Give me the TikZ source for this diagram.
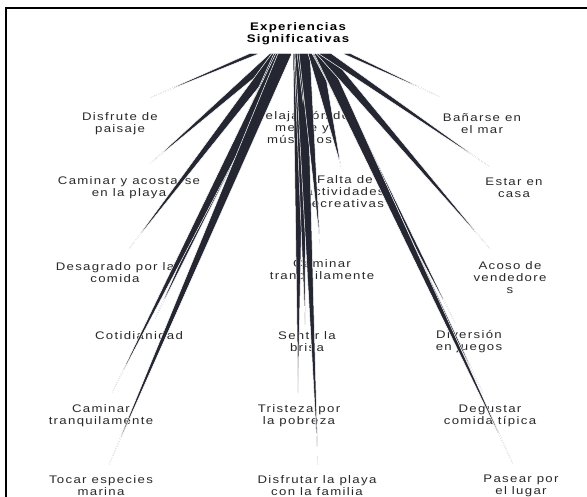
\documentclass[tikz,border=0pt]{standalone}
\usepackage{fontspec}
\setmainfont{Liberation Sans}
\newfontfamily\lblfont[LetterSpace=12,FakeStretch=1.2]{Liberation Sans}
\usetikzlibrary{calc}
\definecolor{wedgecol}{RGB}{36,38,50}
\definecolor{txtcol}{RGB}{40,40,40}

\begin{document}
\begin{tikzpicture}[x=1pt,y=-1pt,
  font=\lblfont\fontsize{11}{12}\selectfont,
  lbl/.style={align=center,inner sep=1pt,text=txtcol},
  title/.style={align=center,inner sep=1pt,font=\lblfont\bfseries\fontsize{11}{12}\selectfont},
  wedge/.style={fill=wedgecol,draw=white,line width=.5pt,line join=miter}
]
\useasboundingbox (0,0) rectangle (587,497);
\draw[line width=1.6pt] (6,497) -- (6,8) -- (587,8);

% root
\node[title] (root) at (298,34) {Experiencias\\Significativas};
\coordinate (hub) at ($(root.south)+(2,7)$);

% left column
\node[lbl] (dis) at (120,124) {Disfrute de\\paisaje};
\node[lbl] (cay) at (129,188) {Caminar y acostarse\\en la playa};
\node[lbl] (des) at (115,273) {Desagrado por la\\comida};
\node[lbl] (cot) at (139,336) {Cotidianidad};
\node[lbl] (ca5) at (101,416) {Caminar\\tranquilamente};
\node[lbl] (toc) at (101,486) {Tocar especies\\marina};

% middle column
\node[lbl] (rel) at (302,128) {Relajación de\\mente y\\músculos.};
\node[lbl] (fal) at (345,192) {Falta de\\actividades\\recreativas};
\node[lbl] (ca3) at (322,271) {Caminar\\tranquilamente};
\node[lbl] (sen) at (307,342) {Sentir la\\brisa};
\node[lbl] (tri) at (299,416) {Tristeza por\\la pobreza};
\node[lbl] (dfp) at (317,486) {Disfrutar la playa\\con la familia};

% right column
\node[lbl] (ban) at (482,124) {Bañarse en\\el mar};
\node[lbl] (est) at (514,188) {Estar en\\casa};
\node[lbl] (aco) at (510,278) {Acoso de\\vendedore\\s};
\node[lbl] (div) at (469,342) {Diversión\\en juegos};
\node[lbl] (deg) at (490,416) {Degustar\\comida típica};
\node[lbl] (pas) at (521,486) {Pasear por\\el lugar};

% tapered branches
\foreach \n/\a/\b/\dx/\dy in {dis/-50/-40/30/-14, cay/-30/-16/21/-12, des/-28/-14/14/-13,
  cot/-26/-12/16/-12, ca5/-24/-10/11/-11, toc/-22/-8/8/-10,
  tri/-7/5/-1/-11, sen/-6/6/-2/-6, dfp/-5/7/1/-10, rel/-3/9/1/-9, ca3/-1/10/-2/-15,
  fal/8/22/-4/-8, div/12/24/-14/-7, deg/13/25/-7/-11, pas/14/27/-8/-10,
  aco/16/29/-20/-12, est/18/31/-24/-10, ban/42/50/-42/-16}
  \fill[wedge] ($(hub)+(\a,0)$) -- ($(hub)+(\b,0)$) -- ($(\n.north)+(\dx,\dy)$) -- cycle;
\end{tikzpicture}
\end{document}
